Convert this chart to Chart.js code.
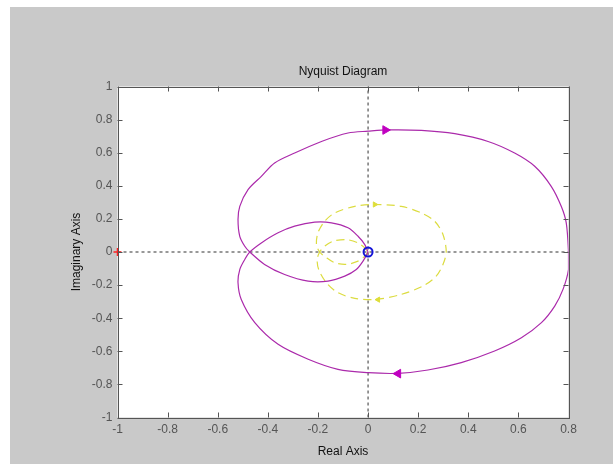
<!DOCTYPE html>
<html>
<head>
<meta charset="utf-8">
<script src="https://cdn.jsdelivr.net/npm/chart.js@4.4.0/dist/chart.umd.min.js"></script>
<style>
  body { margin: 0; background: #fff; }
  #wrap { width: 613px; height: 464px; }
</style>
</head>
<body>
<div id="wrap"><canvas id="nyquist" width="613" height="464"></canvas></div>
<script>
// Magenta curve (solid): origin -> lower small loop -> upper big arc -> 0.8 -> lower big arc -> upper small loop -> origin
const magentaRe = [0, -0.020, -0.047, -0.093, -0.160, -0.239, -0.333, -0.413, -0.472,
  -0.492, -0.512, -0.519, -0.512, -0.479, -0.426, -0.373, -0.293, -0.186, -0.080, 0.0, 0.080, 0.213, 0.346, 0.479, 0.585, 0.665, 0.731, 0.771, 0.791, 0.800,
  0.800, 0.778, 0.745, 0.692, 0.612, 0.505, 0.372, 0.239, 0.120, 0.0, -0.120, -0.239, -0.359, -0.452, -0.506, -0.519, -0.512, -0.492, -0.472,
  -0.426, -0.359, -0.293, -0.213, -0.146, -0.080, -0.040, -0.013, 0];
const magentaIm = [0, -0.055, -0.106, -0.146, -0.176, -0.176, -0.136, -0.075, 0,
  0.035, 0.095, 0.196, 0.276, 0.377, 0.457, 0.538, 0.598, 0.668, 0.719, 0.730, 0.738, 0.735, 0.715, 0.668, 0.598, 0.518, 0.397, 0.276, 0.176, 0.0,
  -0.106, -0.226, -0.327, -0.427, -0.518, -0.598, -0.668, -0.713, -0.733, -0.729, -0.709, -0.648, -0.558, -0.427, -0.287, -0.186, -0.106, -0.045, 0,
  0.055, 0.116, 0.156, 0.180, 0.176, 0.146, 0.095, 0.045, 0];

// Yellow curve (dashed), same path order
const yellowRe = [0, -0.013, -0.040, -0.087, -0.133, -0.166, -0.193,
  -0.206, -0.200, -0.173, -0.133, -0.053, 0.027, 0.133, 0.213, 0.266, 0.299, 0.312,
  0.299, 0.272, 0.219, 0.133, 0.033, -0.053, -0.120, -0.166, -0.197, -0.203, -0.193,
  -0.173, -0.140, -0.087, -0.040, -0.013, 0];
const yellowIm = [0, -0.025, -0.055, -0.075, -0.065, -0.035, 0,
  0.045, 0.116, 0.186, 0.236, 0.276, 0.287, 0.276, 0.236, 0.186, 0.106, 0,
  -0.075, -0.146, -0.206, -0.256, -0.286, -0.280, -0.246, -0.186, -0.106, -0.045, 0,
  0.035, 0.065, 0.075, 0.055, 0.025, 0];

// direction arrows
const magentaArrowRe = [0.069, 0.120];
const magentaArrowIm = [0.737, -0.735];
const yellowArrowRe = [0.027, 0.040];
const yellowArrowIm = [0.287, -0.288];

// critical point
const criticalRe = [-1];
const criticalIm = [0];

// axis ticks
const xTicks = [-1, -0.8, -0.6, -0.4, -0.2, 0, 0.2, 0.4, 0.6, 0.8];
const yTicks = [-1, -0.8, -0.6, -0.4, -0.2, 0, 0.2, 0.4, 0.6, 0.8, 1];

const toPoints = (re, im) => re.map((r, i) => ({ x: r, y: im[i] }));
const fmt = v => String(Math.round(v * 10) / 10);
const labelFont = { family: "'Liberation Sans', Arial, sans-serif", size: 12 };

// grey figure background + white axes box
const backdrop = {
    id: 'backdrop',
    beforeDraw(chart) {
        const { ctx, chartArea: a } = chart;
        ctx.save();
        ctx.fillStyle = '#ffffff';
        ctx.fillRect(0, 0, chart.width, chart.height);
        ctx.fillStyle = '#c9c9c9';
        ctx.fillRect(10, 7, chart.width - 10, chart.height - 7);
        ctx.fillStyle = '#ffffff';
        ctx.fillRect(a.left, a.top, a.right - a.left, a.bottom - a.top);
        ctx.restore();
    }
};

// box and inward tick marks, matlab style
const frame = {
    id: 'frame',
    afterDraw(chart) {
        const { ctx, chartArea: a, scales } = chart;
        const len = 5;
        ctx.save();
        ctx.strokeStyle = '#555';
        ctx.lineWidth = 1;
        ctx.strokeRect(Math.round(a.left) + 0.5, Math.round(a.top) + 0.5,
            Math.round(a.right - a.left), Math.round(a.bottom - a.top));
        ctx.beginPath();
        xTicks.forEach(v => {
            const px = Math.round(scales.x.getPixelForValue(v)) + 0.5;
            ctx.moveTo(px, a.bottom); ctx.lineTo(px, a.bottom - len);
            ctx.moveTo(px, a.top); ctx.lineTo(px, a.top + len);
        });
        yTicks.forEach(v => {
            const py = Math.round(scales.y.getPixelForValue(v)) + 0.5;
            ctx.moveTo(a.left, py); ctx.lineTo(a.left + len, py);
            ctx.moveTo(a.right, py); ctx.lineTo(a.right - len, py);
        });
        ctx.stroke();
        ctx.restore();
    }
};

new Chart(document.getElementById('nyquist'), {
    type: 'scatter',
    data: {
        datasets: [
            {
                data: toPoints(criticalRe, criticalIm),
                pointStyle: 'cross', pointRadius: 4, borderColor: '#ff2020', borderWidth: 1.5,
                clip: false, order: 0
            },
            {
                data: [{ x: 0, y: 0 }],
                pointStyle: 'circle', pointRadius: 4.5, borderColor: '#1414d8', backgroundColor: 'rgba(0,0,0,0)',
                borderWidth: 2, order: 1
            },
            {
                data: toPoints(magentaArrowRe, magentaArrowIm),
                pointStyle: 'triangle', pointRadius: 5, pointRotation: [90, 270],
                backgroundColor: '#c000c0', borderColor: '#c000c0', borderWidth: 1, order: 2
            },
            {
                data: toPoints(yellowArrowRe, yellowArrowIm),
                pointStyle: 'triangle', pointRadius: 3, pointRotation: [90, 270],
                backgroundColor: '#dede3a', borderColor: '#dede3a', borderWidth: 1, order: 3
            },
            {
                data: toPoints(magentaRe, magentaIm),
                showLine: true, pointRadius: 0, borderColor: '#ab2aab', borderWidth: 1.2,
                tension: 0.3, order: 4
            },
            {
                data: toPoints(yellowRe, yellowIm),
                showLine: true, pointRadius: 0, borderColor: '#dcdc40', borderWidth: 1.2,
                borderDash: [8, 5], tension: 0.3, order: 5
            },
            {
                data: [{ x: -1, y: 0 }, { x: 0.8, y: 0 }],
                showLine: true, pointRadius: 0, borderColor: '#333', borderWidth: 1,
                borderDash: [3, 3], order: 6
            },
            {
                data: [{ x: 0, y: -1 }, { x: 0, y: 1 }],
                showLine: true, pointRadius: 0, borderColor: '#333', borderWidth: 1,
                borderDash: [3, 3], order: 7
            }
        ]
    },
    options: {
        responsive: false,
        animation: false,
        layout: { padding: { left: 0, right: 44.5, top: 0, bottom: 0 } },
        plugins: {
            legend: { display: false },
            tooltip: { enabled: false }
        },
        scales: {
            x: {
                type: 'linear', position: 'bottom', min: -1, max: 0.8,
                afterBuildTicks: s => { s.ticks = xTicks.map(v => ({ value: v })); },
                afterFit: s => { s.height = 46.5; },
                grid: { display: false, drawTicks: false },
                border: { display: false },
                ticks: { color: '#555', font: labelFont, padding: 5, maxRotation: 0, autoSkip: false, callback: fmt },
                title: { display: true, text: 'Real Axis', color: '#111', font: labelFont, padding: { top: 0, bottom: 5.4 } }
            },
            xTop: {
                type: 'linear', position: 'top', min: -1, max: 0.8,
                afterFit: s => { s.height = 86.5; },
                grid: { display: false, drawTicks: false },
                border: { display: false },
                ticks: { display: false },
                title: { display: true, text: 'Nyquist Diagram', color: '#111', font: labelFont, padding: { top: 64.8, bottom: 0 } }
            },
            y: {
                type: 'linear', position: 'left', min: -1, max: 1,
                afterBuildTicks: s => { s.ticks = yTicks.map(v => ({ value: v })); },
                afterFit: s => { s.width = 117.5; },
                grid: { display: false, drawTicks: false },
                border: { display: false },
                ticks: { color: '#555', font: labelFont, padding: 5, callback: fmt },
                title: { display: true, text: 'Imaginary Axis', color: '#111', font: labelFont, padding: { top: 69.5, bottom: 0 } }
            }
        }
    },
    plugins: [backdrop, frame]
});
</script>
</body>
</html>
